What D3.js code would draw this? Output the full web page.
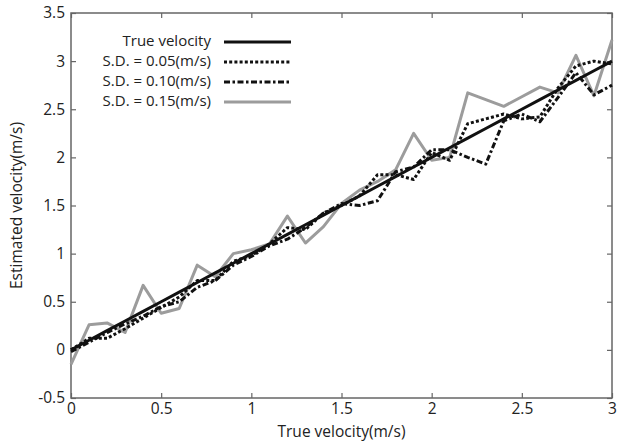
<!DOCTYPE html>
<html>
<head>
<meta charset="utf-8">
<script src="https://cdn.jsdelivr.net/npm/d3@7"></script>
<style>
  body { margin: 0; background: #fff; }
  svg { display: block; font-family: 'Open Sans', 'Noto Sans', sans-serif; }
</style>
</head>
<body>
<svg id="chart" width="630" height="441"></svg>
<script>
// true velocity samples (m/s)
const trueVel = d3.range(0, 31).map((i) => i / 10);

const sd005 = [0.0, 0.12, 0.12, 0.22, 0.33, 0.44, 0.55, 0.72, 0.72, 0.92, 0.98,
  1.1, 1.27, 1.25, 1.42, 1.5, 1.6, 1.82, 1.82, 1.77, 2.05,
  1.97, 2.35, 2.4, 2.45, 2.4, 2.42, 2.72, 2.95, 3.0, 2.97];

const sd010 = [-0.02, 0.08, 0.18, 0.27, 0.35, 0.45, 0.5, 0.65, 0.72, 0.88, 0.97,
  1.08, 1.15, 1.27, 1.42, 1.52, 1.5, 1.55, 1.85, 1.9, 2.08,
  2.08, 2.0, 1.93, 2.38, 2.45, 2.37, 2.62, 2.88, 2.65, 2.75];

const sd015 = [-0.15, 0.26, 0.28, 0.18, 0.67, 0.38, 0.43, 0.88, 0.76, 1.0, 1.04,
  1.1, 1.39, 1.11, 1.28, 1.52, 1.66, 1.75, 1.87, 2.25, 1.97,
  2.0, 2.67, 2.6, 2.53, 2.63, 2.73, 2.67, 3.06, 2.64, 3.22];

const xTicks = [0, 0.5, 1, 1.5, 2, 2.5, 3];
const yTicks = [-0.5, 0, 0.5, 1, 1.5, 2, 2.5, 3, 3.5];

const series = [
  { label: 'True velocity', values: trueVel, color: '#111', dash: null },
  { label: 'S.D. = 0.05(m/s)', values: sd005, color: '#111', dash: '3,2.2' },
  { label: 'S.D. = 0.10(m/s)', values: sd010, color: '#111', dash: '6,2.5,2.5,2.5' },
  { label: 'S.D. = 0.15(m/s)', values: sd015, color: '#9c9c9c', dash: null }
];

const margin = { top: 13, right: 18, bottom: 43, left: 71 };
const width = 630 - margin.left - margin.right;
const height = 441 - margin.top - margin.bottom;

const svg = d3.select('#chart');
const g = svg.append('g').attr('transform', `translate(${margin.left},${margin.top})`);

const xScale = d3.scaleLinear([0, 3], [0, width]);
const yScale = d3.scaleLinear([-0.5, 3.5], [height, 0]);

const fmt = (d) => String(d);
const TICK = 5;
const frameColor = '#666';

/* axes: ticks point inward, mirrored on top/right */
const bottomAxis = d3.axisBottom(xScale).tickValues(xTicks).tickFormat(fmt).tickSizeInner(-TICK).tickSizeOuter(0).tickPadding(5);
const topAxis = d3.axisTop(xScale).tickValues(xTicks).tickFormat('').tickSizeInner(-TICK).tickSizeOuter(0);
const leftAxis = d3.axisLeft(yScale).tickValues(yTicks).tickFormat(fmt).tickSizeInner(-TICK).tickSizeOuter(0).tickPadding(6);
const rightAxis = d3.axisRight(yScale).tickValues(yTicks).tickFormat('').tickSizeInner(-TICK).tickSizeOuter(0);

g.append('g').attr('transform', `translate(0,${height})`).call(bottomAxis);
g.append('g').call(topAxis);
g.append('g').call(leftAxis);
g.append('g').attr('transform', `translate(${width},0)`).call(rightAxis);

g.selectAll('.domain').remove();
g.selectAll('.tick line').attr('stroke', frameColor).attr('stroke-width', 1.2);
g.selectAll('.tick text').attr('fill', '#222').style('font-size', '15.5px').style('font-family', "'Open Sans', sans-serif");

g.append('rect')
  .attr('width', width)
  .attr('height', height)
  .attr('fill', 'none')
  .attr('stroke', frameColor)
  .attr('stroke-width', 1.5);

/* data lines, gray drawn first */
const line = d3.line()
  .x((d, i) => xScale(trueVel[i]))
  .y((d) => yScale(d));

const drawOrder = [3, 2, 1, 0];
drawOrder.forEach((k) => {
  const s = series[k];
  g.append('path')
    .attr('fill', 'none')
    .attr('stroke', s.color)
    .attr('stroke-width', 3)
    .attr('stroke-linejoin', 'round')
    .attr('stroke-dasharray', s.dash)
    .attr('d', line(s.values));
});

/* legend */
const legend = g.append('g');
series.forEach((s, i) => {
  const y = 28 + i * 20;
  legend.append('text')
    .attr('x', 140)
    .attr('y', y)
    .attr('dy', '0.35em')
    .attr('text-anchor', 'end')
    .attr('fill', '#222')
    .style('font-size', '15px')
    .text(s.label);
  legend.append('line')
    .attr('x1', 153)
    .attr('x2', 220)
    .attr('y1', y + 1)
    .attr('y2', y + 1)
    .attr('stroke', s.color)
    .attr('stroke-width', 3)
    .attr('stroke-dasharray', s.dash);
});

/* axis titles */
svg.append('text')
  .attr('x', margin.left + width / 2)
  .attr('y', 437)
  .attr('text-anchor', 'middle')
  .attr('fill', '#222')
  .style('font-size', '15.5px')
  .text('True velocity(m/s)');

svg.append('text')
  .attr('transform', `translate(22,${margin.top + height / 2}) rotate(-90)`)
  .attr('text-anchor', 'middle')
  .attr('fill', '#222')
  .style('font-size', '15.5px')
  .text('Estimated velocity(m/s)');
</script>
</body>
</html>
